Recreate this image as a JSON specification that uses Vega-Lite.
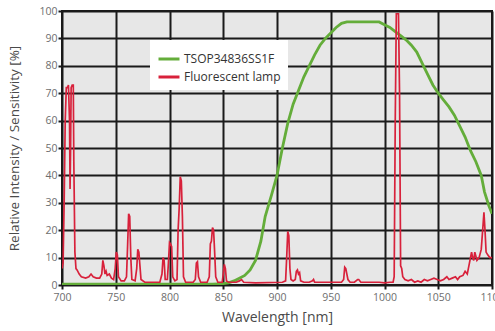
{
  "$schema": "https://vega.github.io/schema/vega-lite/v6.json",
  "width": 430,
  "height": 274,
  "autosize": {"type": "none"},
  "padding": {"left": 62, "top": 11, "right": 3, "bottom": 46},
  "background": "white",
  "config": {
    "view": {"fill": "#e7e7e7", "stroke": "#1a1a1a", "strokeWidth": 2},
    "font": "Open Sans",
    "axis": {
      "gridColor": "#1a1a1a", "gridWidth": 2, "gridOpacity": 1,
      "domain": false, "tickColor": "#1a1a1a", "tickWidth": 2, "tickSize": 4,
      "labelColor": "#6e6e6e", "labelFontSize": 10.5, "labelFont": "Open Sans",
      "titleColor": "#4a4a4a", "titleFontWeight": "normal", "titleFontSize": 14, "titleFont": "Open Sans"
    }
  },
  "datasets": {
    "tsop": [
      {"wl": 700, "v": 0.3}, {"wl": 750, "v": 0.3}, {"wl": 800, "v": 0.3}, {"wl": 840, "v": 0.3},
      {"wl": 850, "v": 0.5}, {"wl": 855, "v": 0.8}, {"wl": 860, "v": 1.5}, {"wl": 865, "v": 2.5},
      {"wl": 870, "v": 3.5}, {"wl": 875, "v": 5.5}, {"wl": 880, "v": 9}, {"wl": 885, "v": 16},
      {"wl": 889, "v": 25}, {"wl": 895, "v": 33}, {"wl": 900, "v": 40}, {"wl": 905, "v": 50},
      {"wl": 910, "v": 59}, {"wl": 915, "v": 66}, {"wl": 920, "v": 71}, {"wl": 925, "v": 76},
      {"wl": 930, "v": 80}, {"wl": 935, "v": 84}, {"wl": 940, "v": 87.5}, {"wl": 945, "v": 90},
      {"wl": 950, "v": 92}, {"wl": 955, "v": 94}, {"wl": 960, "v": 95.5}, {"wl": 965, "v": 96},
      {"wl": 970, "v": 96}, {"wl": 980, "v": 96}, {"wl": 990, "v": 96}, {"wl": 995, "v": 96},
      {"wl": 1000, "v": 95}, {"wl": 1005, "v": 94}, {"wl": 1010, "v": 92.5}, {"wl": 1015, "v": 91},
      {"wl": 1020, "v": 89.5}, {"wl": 1025, "v": 87.5}, {"wl": 1030, "v": 85}, {"wl": 1035, "v": 81},
      {"wl": 1040, "v": 77}, {"wl": 1045, "v": 73}, {"wl": 1050, "v": 70}, {"wl": 1055, "v": 67.5},
      {"wl": 1060, "v": 65}, {"wl": 1065, "v": 62}, {"wl": 1070, "v": 58}, {"wl": 1075, "v": 54},
      {"wl": 1080, "v": 49}, {"wl": 1085, "v": 45}, {"wl": 1090, "v": 40}, {"wl": 1093, "v": 34},
      {"wl": 1097, "v": 29}, {"wl": 1100, "v": 26}
    ],
    "lamp": [
      {"wl": 700, "v": 6}, {"wl": 701, "v": 8}, {"wl": 702, "v": 30}, {"wl": 703, "v": 60},
      {"wl": 704, "v": 72}, {"wl": 705, "v": 72}, {"wl": 706, "v": 73}, {"wl": 707, "v": 60},
      {"wl": 707.5, "v": 35}, {"wl": 708, "v": 50}, {"wl": 708.5, "v": 72}, {"wl": 709.5, "v": 73},
      {"wl": 710.5, "v": 73}, {"wl": 711, "v": 45}, {"wl": 712, "v": 12}, {"wl": 713, "v": 6},
      {"wl": 714, "v": 5.5}, {"wl": 716, "v": 4}, {"wl": 718, "v": 3}, {"wl": 722, "v": 2.5},
      {"wl": 725, "v": 3}, {"wl": 727, "v": 4}, {"wl": 729, "v": 3}, {"wl": 732, "v": 2.5},
      {"wl": 735, "v": 2.5}, {"wl": 737, "v": 4}, {"wl": 738, "v": 9}, {"wl": 739, "v": 7},
      {"wl": 740, "v": 4}, {"wl": 741, "v": 5}, {"wl": 742, "v": 3.5}, {"wl": 744, "v": 4},
      {"wl": 746, "v": 2.5}, {"wl": 748, "v": 2}, {"wl": 749.5, "v": 6}, {"wl": 750.5, "v": 12},
      {"wl": 751.5, "v": 11}, {"wl": 752.5, "v": 3}, {"wl": 755, "v": 1.5}, {"wl": 758, "v": 1.5},
      {"wl": 760, "v": 3}, {"wl": 761, "v": 14}, {"wl": 762, "v": 26}, {"wl": 763, "v": 25},
      {"wl": 764, "v": 10}, {"wl": 765, "v": 2}, {"wl": 768, "v": 1.5}, {"wl": 769.5, "v": 6},
      {"wl": 770.5, "v": 13}, {"wl": 771.5, "v": 12}, {"wl": 772.5, "v": 7}, {"wl": 773.5, "v": 2},
      {"wl": 777, "v": 1}, {"wl": 785, "v": 1}, {"wl": 791, "v": 1}, {"wl": 793, "v": 4},
      {"wl": 794, "v": 10}, {"wl": 795, "v": 9}, {"wl": 796, "v": 2}, {"wl": 798, "v": 2},
      {"wl": 799, "v": 8}, {"wl": 800, "v": 15.5}, {"wl": 801, "v": 15}, {"wl": 802, "v": 14},
      {"wl": 803, "v": 3}, {"wl": 805, "v": 1.5}, {"wl": 807, "v": 2}, {"wl": 808, "v": 20},
      {"wl": 809, "v": 28}, {"wl": 810, "v": 39.5}, {"wl": 811, "v": 38}, {"wl": 812, "v": 25},
      {"wl": 813, "v": 3}, {"wl": 815, "v": 1}, {"wl": 822, "v": 1}, {"wl": 824, "v": 2},
      {"wl": 825, "v": 8}, {"wl": 826, "v": 8.5}, {"wl": 827, "v": 3}, {"wl": 829, "v": 1},
      {"wl": 835, "v": 1}, {"wl": 837, "v": 3}, {"wl": 838, "v": 15}, {"wl": 839, "v": 16},
      {"wl": 840, "v": 21}, {"wl": 841, "v": 20}, {"wl": 842, "v": 12}, {"wl": 843, "v": 3},
      {"wl": 845, "v": 1}, {"wl": 849, "v": 1}, {"wl": 850, "v": 4}, {"wl": 851, "v": 7.5},
      {"wl": 852, "v": 6}, {"wl": 853, "v": 1.5}, {"wl": 855, "v": 1}, {"wl": 862, "v": 1},
      {"wl": 865, "v": 1.5}, {"wl": 867, "v": 2}, {"wl": 869, "v": 1}, {"wl": 880, "v": 0.8},
      {"wl": 905, "v": 1}, {"wl": 908, "v": 1.5}, {"wl": 909, "v": 10}, {"wl": 910, "v": 19.5},
      {"wl": 911, "v": 18}, {"wl": 912, "v": 6}, {"wl": 913, "v": 2}, {"wl": 915, "v": 1.5},
      {"wl": 917, "v": 2}, {"wl": 918, "v": 5}, {"wl": 919, "v": 5.5}, {"wl": 920, "v": 4},
      {"wl": 921, "v": 4.5}, {"wl": 922, "v": 1.5}, {"wl": 925, "v": 1}, {"wl": 930, "v": 1},
      {"wl": 933, "v": 1.5}, {"wl": 934, "v": 2}, {"wl": 935, "v": 1}, {"wl": 945, "v": 1},
      {"wl": 955, "v": 1}, {"wl": 960, "v": 1}, {"wl": 962, "v": 2}, {"wl": 963, "v": 6.5},
      {"wl": 964, "v": 6}, {"wl": 965, "v": 4}, {"wl": 966, "v": 2}, {"wl": 968, "v": 1},
      {"wl": 972, "v": 1}, {"wl": 975, "v": 2}, {"wl": 976, "v": 2}, {"wl": 978, "v": 1},
      {"wl": 985, "v": 1}, {"wl": 995, "v": 1}, {"wl": 1000, "v": 0.8}, {"wl": 1005, "v": 1},
      {"wl": 1008, "v": 1}, {"wl": 1009, "v": 3}, {"wl": 1010, "v": 60}, {"wl": 1011, "v": 99},
      {"wl": 1012, "v": 99}, {"wl": 1013, "v": 99}, {"wl": 1014, "v": 70}, {"wl": 1015, "v": 7},
      {"wl": 1016, "v": 6}, {"wl": 1017, "v": 3}, {"wl": 1019, "v": 2}, {"wl": 1022, "v": 1.5},
      {"wl": 1025, "v": 2}, {"wl": 1028, "v": 1}, {"wl": 1031, "v": 1.5}, {"wl": 1034, "v": 1},
      {"wl": 1037, "v": 2}, {"wl": 1040, "v": 1.5}, {"wl": 1043, "v": 2}, {"wl": 1046, "v": 2.5},
      {"wl": 1049, "v": 2}, {"wl": 1052, "v": 1.5}, {"wl": 1055, "v": 2}, {"wl": 1058, "v": 3},
      {"wl": 1060, "v": 2}, {"wl": 1063, "v": 2.5}, {"wl": 1066, "v": 3}, {"wl": 1068, "v": 2},
      {"wl": 1070, "v": 3}, {"wl": 1073, "v": 3.5}, {"wl": 1075, "v": 5}, {"wl": 1077, "v": 4},
      {"wl": 1079, "v": 8}, {"wl": 1081, "v": 12}, {"wl": 1082, "v": 10}, {"wl": 1083, "v": 9},
      {"wl": 1084, "v": 12}, {"wl": 1086, "v": 9}, {"wl": 1088, "v": 10}, {"wl": 1090, "v": 13},
      {"wl": 1091.5, "v": 21}, {"wl": 1092.5, "v": 26.5}, {"wl": 1093.5, "v": 20}, {"wl": 1094.5, "v": 12},
      {"wl": 1096, "v": 11}, {"wl": 1098, "v": 10}, {"wl": 1100, "v": 10}
    ]
  },
  "encoding": {
    "x": {
      "field": "wl", "type": "quantitative",
      "scale": {"domain": [700, 1100], "nice": false, "zero": false},
      "axis": {"values": [700, 750, 800, 850, 900, 950, 1000, 1050, 1100], "format": "d", "title": "Wavelength [nm]", "titlePadding": 8, "labelPadding": 3, "labelFlush": false}
    },
    "y": {
      "field": "v", "type": "quantitative",
      "scale": {"domain": [0, 100], "nice": false},
      "axis": {"values": [0, 10, 20, 30, 40, 50, 60, 70, 80, 90, 100], "title": "Relative Intensity / Sensitivity [%]", "titlePadding": 17, "labelPadding": 1, "titleFontSize": 13.5}
    },
    "color": {
      "field": "s", "type": "nominal",
      "scale": {"domain": ["TSOP34836SS1F", "Fluorescent lamp"], "range": ["#64ad3a", "#d8213b"]},
      "legend": {
        "title": null, "orient": "none", "legendX": 88, "legendY": 29,
        "fillColor": "white", "padding": 7, "symbolType": "stroke", "symbolStrokeWidth": 3,
        "symbolSize": 440, "labelFontSize": 12, "labelColor": "#333333", "labelFont": "Open Sans",
        "rowPadding": -2, "labelOffset": 3
      }
    }
  },
  "layer": [
    {
      "data": {"name": "tsop"},
      "transform": [{"calculate": "'TSOP34836SS1F'", "as": "s"}],
      "mark": {"type": "line", "strokeWidth": 2.8, "clip": true}
    },
    {
      "data": {"name": "lamp"},
      "transform": [{"calculate": "'Fluorescent lamp'", "as": "s"}],
      "mark": {"type": "line", "strokeWidth": 1.7, "clip": true}
    }
  ]
}
